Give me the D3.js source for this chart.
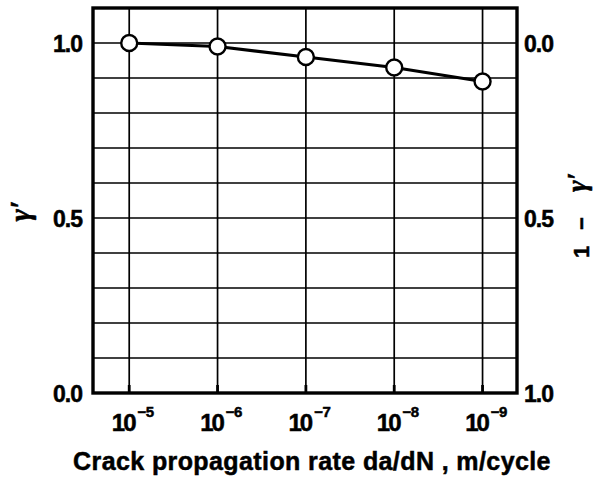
<!DOCTYPE html>
<html lang="en">
<head>
<meta charset="UTF-8">
<title>gamma vs crack rate</title>
<script src="https://d3js.org/d3.v7.min.js"></script>
<style>
  body { margin: 0; background: #fff; }
  text { font-family: "Liberation Sans", Arial, sans-serif; font-weight: bold; fill: #000; stroke: #000; stroke-width: 0.5px; }
</style>
</head>
<body>
<div id="chart"></div>
<script>
// data
var rates = [1e-5, 1e-6, 1e-7, 1e-8, 1e-9];
var exponents = [-5, -6, -7, -8, -9];
var gamma = [1.00, 0.99, 0.96, 0.93, 0.89];
var leftTicks = [0.0, 0.5, 1.0];
var rightTicks = [0.0, 0.5, 1.0];   // 1 - gamma
var gridY = [0.1, 0.2, 0.3, 0.4, 0.5, 0.6, 0.7, 0.8, 0.9, 1.0];

var width = 593, height = 478;
var margin = { top: 8, right: 76, bottom: 85, left: 93 };
var w = width - margin.left - margin.right;
var h = height - margin.top - margin.bottom;

var svg = d3.select("#chart").append("svg")
    .attr("width", width)
    .attr("height", height);

var g = svg.append("g")
    .attr("transform", "translate(" + margin.left + "," + margin.top + ")");

var x = d3.scaleLog().domain([Math.pow(10, -4.59), Math.pow(10, -9.39)]).range([0, w]);
var y = d3.scaleLinear().domain([0, 1.1]).range([h, 0]);
var y2 = d3.scaleLinear().domain([1, 0]).range([y(0), y(1)]);

// grid
g.append("g").selectAll("line").data(gridY).enter().append("line")
    .attr("x1", 0).attr("x2", w)
    .attr("y1", function(d) { return y(d); })
    .attr("y2", function(d) { return y(d); })
    .attr("stroke", "#000").attr("stroke-width", 1.7);

g.append("g").selectAll("line").data(rates).enter().append("line")
    .attr("x1", function(d) { return x(d); })
    .attr("x2", function(d) { return x(d); })
    .attr("y1", 0).attr("y2", h)
    .attr("stroke", "#000").attr("stroke-width", 1.7);

// small thicker ticks at the bottom
g.append("g").selectAll("line").data(rates).enter().append("line")
    .attr("x1", function(d) { return x(d); })
    .attr("x2", function(d) { return x(d); })
    .attr("y1", h - 8).attr("y2", h)
    .attr("stroke", "#000").attr("stroke-width", 2.8);

// frame
g.append("rect")
    .attr("width", w).attr("height", h)
    .attr("fill", "none").attr("stroke", "#000").attr("stroke-width", 3.4);

// bottom axis labels 10^n
var xAxis = g.append("g")
    .attr("transform", "translate(0," + h + ")")
    .call(d3.axisBottom(x).tickValues(rates).tickSize(0).tickPadding(0).tickFormat(""));
xAxis.select(".domain").remove();
xAxis.selectAll(".tick text").remove();
xAxis.selectAll(".tick").each(function(d, i) {
    var t = d3.select(this).append("text")
        .attr("y", 38)
        .attr("x", 3)
        .attr("text-anchor", "middle")
        .style("font-size", "24px")
        .style("letter-spacing", "-2px");
    t.append("tspan").text("10");
    t.append("tspan").attr("dx", 3).attr("dy", -14).style("font-size", "15px").style("letter-spacing", "-0.5px")
        .text("−" + Math.abs(exponents[i]));
});

// left axis
var yAxis = g.append("g")
    .call(d3.axisLeft(y).tickValues(leftTicks).tickSize(0).tickPadding(11).tickFormat(d3.format(".1f")));
yAxis.select(".domain").remove();
yAxis.selectAll("text").style("font-size", "23px").style("letter-spacing", "-1px").attr("dy", "0.36em");

// right axis (1 - gamma)
var yAxis2 = g.append("g")
    .attr("transform", "translate(" + w + ",0)")
    .call(d3.axisRight(y2).tickValues(rightTicks).tickSize(0).tickPadding(7).tickFormat(d3.format(".1f")));
yAxis2.select(".domain").remove();
yAxis2.selectAll("text").style("font-size", "23px").style("letter-spacing", "-1px").attr("dy", "0.36em");

// data line and points
var pts = rates.map(function(r, i) { return [r, gamma[i]]; });
g.append("path")
    .datum(pts)
    .attr("fill", "none").attr("stroke", "#000").attr("stroke-width", 3.2)
    .attr("d", d3.line().x(function(d) { return x(d[0]); }).y(function(d) { return y(d[1]); }));

g.selectAll("circle").data(pts).enter().append("circle")
    .attr("cx", function(d) { return x(d[0]); })
    .attr("cy", function(d) { return y(d[1]); })
    .attr("r", 8)
    .attr("fill", "#fff").attr("stroke", "#000").attr("stroke-width", 2.4);

// axis titles
svg.append("text")
    .attr("x", 312).attr("y", 470)
    .attr("text-anchor", "middle")
    .style("font-size", "25px")
    .style("letter-spacing", "0.4px")
    .text("Crack propagation rate da/dN , m/cycle");

svg.append("text")
    .attr("transform", "translate(30,211) rotate(-90)")
    .attr("text-anchor", "middle")
    .style("font-family", "'Liberation Serif', serif")
    .style("font-style", "italic")
    .style("font-size", "30px")
    .text("γ′");

var rt = svg.append("text")
    .attr("transform", "translate(589,258) rotate(-90)")
    .style("font-size", "22px");
rt.append("tspan").attr("x", 0).text("1");
rt.append("tspan").attr("x", 28).text("−");
rt.append("tspan").attr("x", 66).attr("dy", -3)
    .style("font-family", "'Liberation Serif', serif")
    .style("font-style", "italic")
    .style("font-size", "28px")
    .text("γ′");
</script>
</body>
</html>
